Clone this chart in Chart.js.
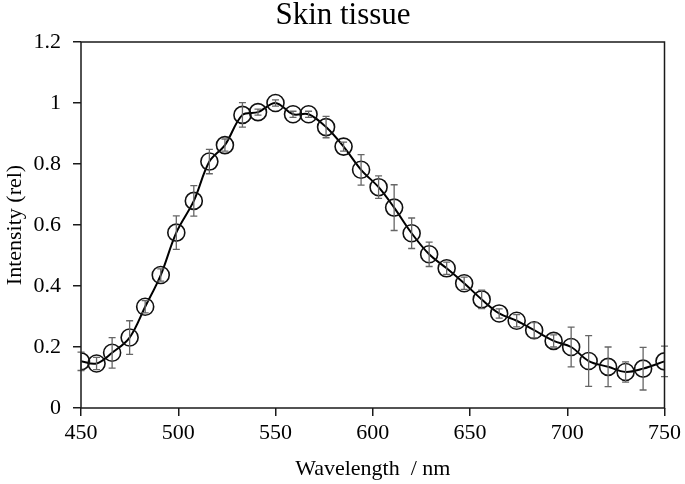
<!DOCTYPE html>
<html>
<head>
<meta charset="utf-8">
<title>Skin tissue</title>
<script src="https://cdn.jsdelivr.net/npm/chart.js@4.4.1/dist/chart.umd.min.js"></script>
<style>
    html, body { margin: 0; padding: 0; background: #fff; }
    #chart { display: block; }
</style>
</head>
<body>
<canvas id="chart" width="685" height="484"></canvas>
<script>
// Wavelength (nm) of each measured point
const wavelengths = [450, 458, 466, 475, 483, 491, 499, 508, 516, 524, 533, 541, 550, 559, 567, 576, 585, 594,
    603, 611, 620, 629, 638, 647, 656, 665, 674, 683, 693, 702, 711, 721, 730, 739, 750];

// Relative intensity
const intensity = [0.153, 0.146, 0.181, 0.231, 0.332, 0.436, 0.575, 0.679, 0.808, 0.862, 0.961, 0.970, 1.0, 0.963,
    0.963, 0.921, 0.857, 0.781, 0.724, 0.657, 0.573, 0.504, 0.458, 0.409, 0.356, 0.310, 0.286, 0.255, 0.220,
    0.200, 0.154, 0.135, 0.118, 0.129, 0.153];

// Error bar half lengths
const errors = [0.03, 0.02, 0.05, 0.055, 0.02, 0.02, 0.055, 0.05, 0.04, 0.02, 0.04, 0.01, 0.01, 0.01, 0.01,
    0.035, 0.015, 0.05, 0.037, 0.075, 0.05, 0.04, 0.02, 0.02, 0.03, 0.015, 0.02, 0.025, 0.02, 0.065, 0.083,
    0.065, 0.033, 0.07, 0.05];

const xTicks = [450, 500, 550, 600, 650, 700, 750];
const yTicks = [0, 0.2, 0.4, 0.6, 0.8, 1, 1.2];

document.addEventListener('DOMContentLoaded', function() {
    const serif = '"Liberation Serif", "Times New Roman", serif';
    const axisColor = '#1a1a1a';

    // Error bars drawn from the scales
    const errorBars = {
        id: 'errorBars',
        afterDatasetsDraw(chart) {
            const ctx = chart.ctx;
            const xs = chart.scales.x;
            const ys = chart.scales.y;
            ctx.save();
            ctx.strokeStyle = '#666';
            ctx.lineWidth = 1.3;
            wavelengths.forEach((w, i) => {
                const px = xs.getPixelForValue(w);
                const top = ys.getPixelForValue(intensity[i] + errors[i]);
                const bot = ys.getPixelForValue(intensity[i] - errors[i]);
                ctx.beginPath();
                ctx.moveTo(px, top);
                ctx.lineTo(px, bot);
                ctx.moveTo(px - 3.5, top);
                ctx.lineTo(px + 3.5, top);
                ctx.moveTo(px - 3.5, bot);
                ctx.lineTo(px + 3.5, bot);
                ctx.stroke();
            });
            ctx.restore();
        }
    };

    // Box around the plot area, and the title a bit right of canvas centre
    const frame = {
        id: 'frame',
        afterDraw(chart) {
            const a = chart.chartArea;
            const ctx = chart.ctx;
            ctx.save();
            ctx.strokeStyle = axisColor;
            ctx.lineWidth = 1.5;
            ctx.strokeRect(a.left, a.top, a.right - a.left, a.bottom - a.top);

            ctx.fillStyle = '#000';
            ctx.font = '31px ' + serif;
            ctx.textAlign = 'center';
            ctx.textBaseline = 'alphabetic';
            ctx.fillText('Skin tissue', 343, 24);
            ctx.restore();
        }
    };

    new Chart(document.getElementById('chart'), {
        type: 'line',
        data: {
            datasets: [{
                data: wavelengths.map((w, i) => ({ x: w, y: intensity[i] })),
                borderColor: '#000',
                borderWidth: 2,
                tension: 0.35,
                pointRadius: 8.5,
                pointBorderWidth: 1.6,
                pointBorderColor: '#111',
                pointBackgroundColor: 'rgba(0,0,0,0)',
                fill: false
            }]
        },
        options: {
            responsive: false,
            animation: false,
            layout: { padding: { left: 0, right: 18, top: 42, bottom: 0 } },
            plugins: {
                legend: { display: false },
                tooltip: { enabled: false },
                title: { display: false }
            },
            scales: {
                x: {
                    type: 'linear',
                    min: 450,
                    max: 750,
                    afterBuildTicks: axis => { axis.ticks = xTicks.map(v => ({ value: v })); },
                    afterFit: axis => { axis.height = 76; },
                    grid: { display: true, drawOnChartArea: false, tickLength: 8, color: axisColor, lineWidth: 1.5 },
                    border: { display: false },
                    ticks: { color: '#000', padding: 4, maxRotation: 0, font: { family: serif, size: 22 } },
                    title: {
                        display: true,
                        text: 'Wavelength  / nm',
                        color: '#000',
                        font: { family: serif, size: 22 },
                        padding: { top: 0, bottom: 2 }
                    }
                },
                y: {
                    min: 0,
                    max: 1.2,
                    afterBuildTicks: axis => { axis.ticks = yTicks.map(v => ({ value: v })); },
                    afterFit: axis => { axis.width = 81; },
                    grid: { display: true, drawOnChartArea: false, tickLength: 8, color: axisColor, lineWidth: 1.5 },
                    border: { display: false },
                    ticks: {
                        color: '#000',
                        padding: 12,
                        font: { family: serif, size: 22 },
                        callback: v => String(v)
                    },
                    title: {
                        display: true,
                        text: 'Intensity (rel)',
                        color: '#000',
                        font: { family: serif, size: 22 },
                        padding: { top: 2, bottom: 0 }
                    }
                }
            }
        },
        plugins: [errorBars, frame]
    });
});
</script>
</body>
</html>
